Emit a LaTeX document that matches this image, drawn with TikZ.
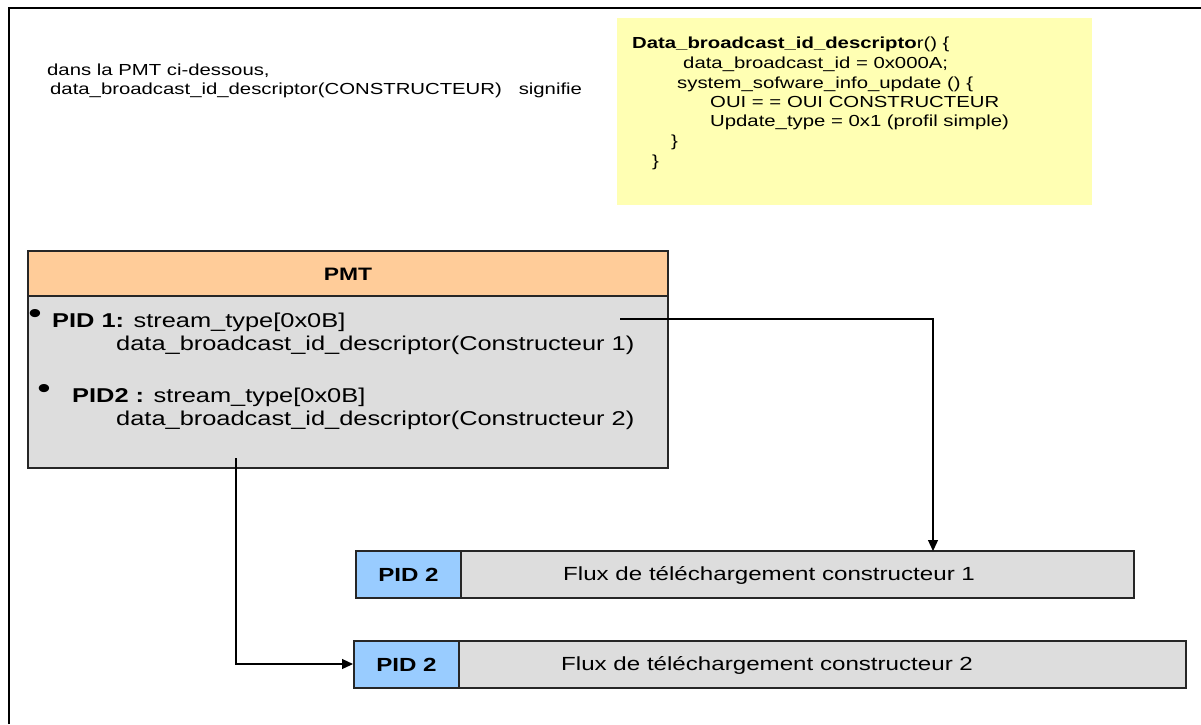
\documentclass[tikz,border=0pt]{standalone}
\usepackage{fontspec}
\setmainfont{Liberation Sans}[FakeStretch=1.27]
\usetikzlibrary{arrows.meta}
\definecolor{noteyellow}{RGB}{255,255,179}
\definecolor{pmthead}{RGB}{255,204,153}
\definecolor{panelgray}{RGB}{221,221,221}
\definecolor{pidblue}{RGB}{153,204,255}
\tikzset{
  txt/.style={anchor=base west, inner sep=0pt, font=\fontsize{20}{23}\selectfont},
  dot/.style={inner sep=0pt, font=\fontsize{30}{30}\selectfont},
  code/.style={anchor=base west, inner sep=0pt, font=\fontsize{16}{19}\selectfont},
  flux/.style={anchor=west, inner sep=0pt, font=\fontsize{19}{22}\selectfont},
  pidlabel/.style={inner sep=0pt, font=\fontsize{19}{22}\selectfont\bfseries},
  cell/.style={draw=black!85, line width=1.3pt},
  link/.style={draw=black, line width=1.2pt},
  tip/.style={-{Triangle[length=11pt,width=10pt]}}
}
\begin{document}
\begin{tikzpicture}[x=1pt,y=-1pt]
\useasboundingbox (0,0) rectangle (1201,724);
% outer frame (only top and left edges fall inside the page)
\draw[line width=1.6pt] (9,724) -- (9,8) -- (1201,8);

% descriptor note
\fill[noteyellow] (617,18) rectangle (1092,205);
\node[code] (y1) at (632,48) {\textbf{Data\_broadcast\_id\_descripto}r() \{};
\node[code] (y2) at (683,68) {data\_broadcast\_id = 0x000A;};
\node[code] (y3) at (677,88) {system\_sofware\_info\_update () \{};
\node[code] (y4) at (710,107) {OUI = = OUI CONSTRUCTEUR};
\node[code] (y5) at (710,126) {Update\_type = 0x1 (profil simple)};
\node[code] (y6) at (671,146) {\}};
\node[code] (y7) at (652,166) {\}};

% caption
\node[code] (t1) at (47,75) {dans la PMT ci-dessous,};
\node[code] (t2) at (50,94) {data\_broadcast\_id\_descriptor(CONSTRUCTEUR)\ \ \ signifie};

% PMT table
\path[cell, fill=pmthead] (28,251) rectangle (668,296);
\path[cell, fill=panelgray] (28,296) rectangle (668,468);
\node[inner sep=0pt, font=\fontsize{18}{21}\selectfont\bfseries] (pmt) at (348,274) {PMT};
\node[dot] (b1) at (35,316) {\textbullet};
\node[txt] (p1) at (52,327) {\textbf{PID 1:} stream\_type[0x0B]};
\node[txt] (d1) at (116,350) {data\_broadcast\_id\_descriptor(Constructeur 1)};
\node[dot] (b2) at (44,391) {\textbullet};
\node[txt] (p2) at (72,402) {\textbf{PID2 :} stream\_type[0x0B]};
\node[txt] (d2) at (116,425) {data\_broadcast\_id\_descriptor(Constructeur 2)};
\coordinate (s1) at (620,319);
\coordinate (s2) at (236,458);

% download streams
\path[cell, fill=pidblue] (356,551) rectangle (461,598);
\path[cell, fill=panelgray] (461,551) rectangle (1134,598);
\node[pidlabel] (pa) at (408.5,575) {PID 2};
\node[flux] (fa) at (563,575) {Flux de téléchargement constructeur 1};
\coordinate (fatop) at (933,551);

\path[cell, fill=pidblue] (354,641) rectangle (459,688);
\path[cell, fill=panelgray] (459,641) rectangle (1186,688);
\node[pidlabel] (pb) at (406.5,665) {PID 2};
\node[flux] (fb) at (561,665) {Flux de téléchargement constructeur 2};
\coordinate (fbleft) at (353,664);

% connectors
\draw[link, tip] (s1) -| (fatop);
\draw[link, tip] (s2) |- (fbleft);
\end{tikzpicture}
\end{document}
